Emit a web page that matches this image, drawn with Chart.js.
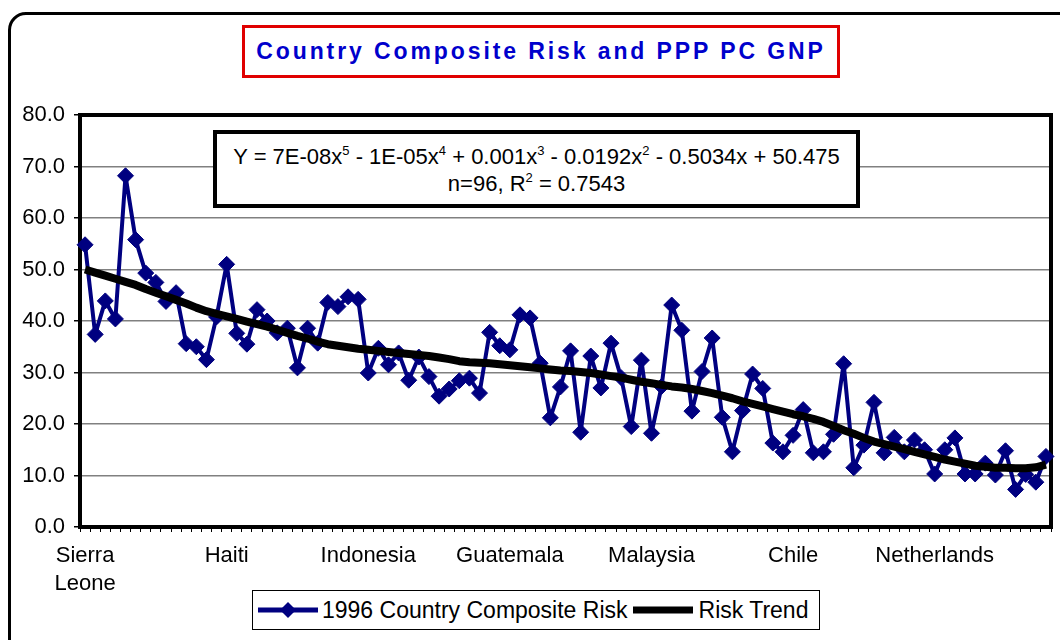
<!DOCTYPE html>
<html>
<head>
<meta charset="utf-8">
<script src="https://cdn.jsdelivr.net/npm/chart.js@4/dist/chart.umd.min.js"></script>
<style>
  html, body { margin: 0; padding: 0; background: #fff; overflow: hidden; }
  body { width: 1060px; height: 640px; position: relative; font-family: "Liberation Sans", Arial, sans-serif; }
  #frame { position: absolute; left: 8px; top: 12px; width: 1080px; height: 660px; border: 3px solid #000; border-radius: 18px; }
  #chart { position: absolute; left: 0; top: 0; }
  #title { position: absolute; left: 242px; top: 25px; width: 592px; height: 47px; border: 3px solid #e00000;
    color: #0000cc; font-weight: bold; font-size: 23px; letter-spacing: 2.9px; text-align: center; line-height: 47px; background: #fff; }
  #eq { position: absolute; left: 213px; top: 130px; width: 639px; border: 4px solid #000; background: #fff;
    font-size: 22px; line-height: 27px; text-align: center; padding-top: 9px; box-sizing: content-box; height: 61px; }
  #eq sup { font-size: 13px; line-height: 0; vertical-align: 9px; }
  #legend { position: absolute; left: 252px; top: 590px; width: 566px; height: 38px; border: 1px solid #000; background: #fff;
    display: flex; align-items: center; font-size: 23px; }
  #legend svg { display: block; }
</style>
</head>
<body>
<div id="frame"></div>
<canvas id="chart" width="1060" height="640"></canvas>
<div id="title">Country Composite Risk and PPP PC GNP</div>
<div id="eq">Y = 7E-08x<sup>5</sup> - 1E-05x<sup>4</sup> + 0.001x<sup>3</sup> - 0.0192x<sup>2</sup> - 0.5034x + 50.475<br>n=96, R<sup>2</sup> = 0.7543</div>
<div id="legend">
  <svg width="64" height="20" style="margin-left:5px"><line x1="0" y1="10" x2="60" y2="10" stroke="#000080" stroke-width="5"/><polygon points="30,2 38,10 30,18 22,10" fill="#000080"/></svg>
  <span>1996 Country Composite Risk</span>
  <svg width="66" height="20" style="margin-left:5px"><line x1="0" y1="10" x2="60" y2="10" stroke="#000" stroke-width="7"/></svg>
  <span>Risk Trend</span>
</div>
<script>
// countries shown on the axis, one every 14 categories
const namedCountries = [["Sierra", "Leone"], "Haiti", "Indonesia", "Guatemala", "Malaysia", "Chile", "Netherlands"];
const labelEvery = 14;

// 1996 country composite risk, 96 countries
const riskValues = [
  54.8, 37.4, 43.9, 40.4, 68.2, 55.8, 49.3, 47.5, 43.8, 45.5,
  35.6, 35.0, 32.5, 40.8, 51.0, 37.6, 35.5, 42.2, 40.0, 37.7,
  38.6, 30.9, 38.6, 35.7, 43.6, 42.8, 44.7, 44.2, 29.9, 34.7,
  31.5, 33.8, 28.5, 33.0, 29.2, 25.4, 26.8, 28.4, 28.9, 26.0,
  37.8, 35.2, 34.4, 41.2, 40.6, 31.8, 21.2, 27.2, 34.2, 18.4,
  33.2, 27.0, 35.7, 29.0, 19.5, 32.4, 18.2, 27.3, 43.1, 38.2,
  22.5, 30.2, 36.7, 21.3, 14.6, 22.6, 29.7, 26.9, 16.3, 14.6,
  17.8, 22.8, 14.4, 14.6, 18.0, 31.7, 11.5, 15.9, 24.2, 14.4,
  17.4, 14.6, 16.9, 15.0, 10.3, 15.0, 17.3, 10.3, 10.3, 12.4,
  10.1, 14.8, 7.3, 10.2, 8.7, 13.7
];

// polynomial trend line
const trendValues = [
  50.0, 49.4, 48.8, 48.2, 47.6, 47.0, 46.2, 45.5, 44.8, 44.1,
  43.4, 42.6, 41.9, 41.4, 40.9, 40.4, 39.9, 39.4, 38.9, 38.3,
  37.7, 37.1, 36.6, 36.0, 35.5, 35.2, 34.9, 34.6, 34.4, 34.2,
  34.0, 33.8, 33.6, 33.4, 33.2, 32.9, 32.6, 32.2, 32.0, 31.9,
  31.8, 31.6, 31.4, 31.2, 31.0, 30.8, 30.6, 30.4, 30.3, 30.1,
  29.9, 29.6, 29.3, 29.0, 28.6, 28.2, 27.9, 27.6, 27.3, 27.1,
  26.8, 26.4, 26.0, 25.5, 25.0, 24.4, 23.9, 23.4, 22.9, 22.4,
  21.9, 21.5, 21.0, 20.4, 19.6, 18.8, 18.1, 17.3, 16.6, 16.1,
  15.6, 15.1, 14.6, 14.1, 13.6, 13.1, 12.7, 12.3, 11.9, 11.7,
  11.5, 11.5, 11.4, 11.4, 11.6, 12.1
];

const yMin = 0, yMax = 80, yStep = 10;

const categories = riskValues.map((v, i) => (i % labelEvery === 0 ? namedCountries[i / labelEvery] : ""));

const fontFamily = '"Liberation Sans", Arial, sans-serif';

// thick black box round the plot area, under the data
const plotBorder = {
  id: "plotBorder",
  beforeDatasetsDraw(chart) {
    const a = chart.chartArea;
    const ctx = chart.ctx;
    ctx.save();
    ctx.strokeStyle = "#000";
    ctx.lineWidth = 4;
    ctx.strokeRect(a.left, a.top, a.right - a.left, a.bottom - a.top);
    ctx.restore();
  },
};

new Chart(document.getElementById("chart"), {
  type: "line",
  data: {
    labels: categories,
    datasets: [
      {
        label: "1996 Country Composite Risk",
        data: riskValues,
        borderColor: "#000080",
        backgroundColor: "#000080",
        borderWidth: 4,
        borderJoinStyle: "round",
        pointStyle: "rectRot",
        pointRadius: 8,
        pointBackgroundColor: "#000080",
        pointBorderColor: "#000080",
        pointBorderWidth: 1,
        tension: 0,
        clip: false,
        order: 1,
      },
      {
        label: "Risk Trend",
        data: trendValues,
        borderColor: "#000",
        borderWidth: 8,
        borderJoinStyle: "round",
        pointRadius: 0,
        tension: 0,
        order: 0,
      },
    ],
  },
  options: {
    responsive: false,
    animation: false,
    layout: { padding: { top: 115, left: 0, right: 5, bottom: 0 } },
    plugins: {
      legend: { display: false },
      title: { display: false },
      tooltip: { enabled: false },
    },
    scales: {
      x: {
        offset: true,
        afterFit(scale) { scale.height = 113; },
        border: { display: false },
        grid: { offset: true, drawOnChartArea: false, drawTicks: true, tickLength: 5, color: "#000", lineWidth: 1 },
        ticks: {
          autoSkip: false,
          maxRotation: 0,
          minRotation: 0,
          padding: 10,
          color: "#000",
          font: { family: fontFamily, size: 22, lineHeight: 1.27 },
        },
      },
      y: {
        min: yMin,
        max: yMax,
        afterFit(scale) { scale.width = 80; },
        border: { display: false },
        grid: { color: "#808080", lineWidth: 1.5, drawTicks: true, tickLength: 6, tickColor: "#000" },
        ticks: {
          stepSize: yStep,
          padding: 9,
          color: "#000",
          font: { family: fontFamily, size: 22 },
          callback: (v) => v.toFixed(1),
        },
      },
    },
  },
  plugins: [plotBorder],
});
</script>
</body>
</html>
